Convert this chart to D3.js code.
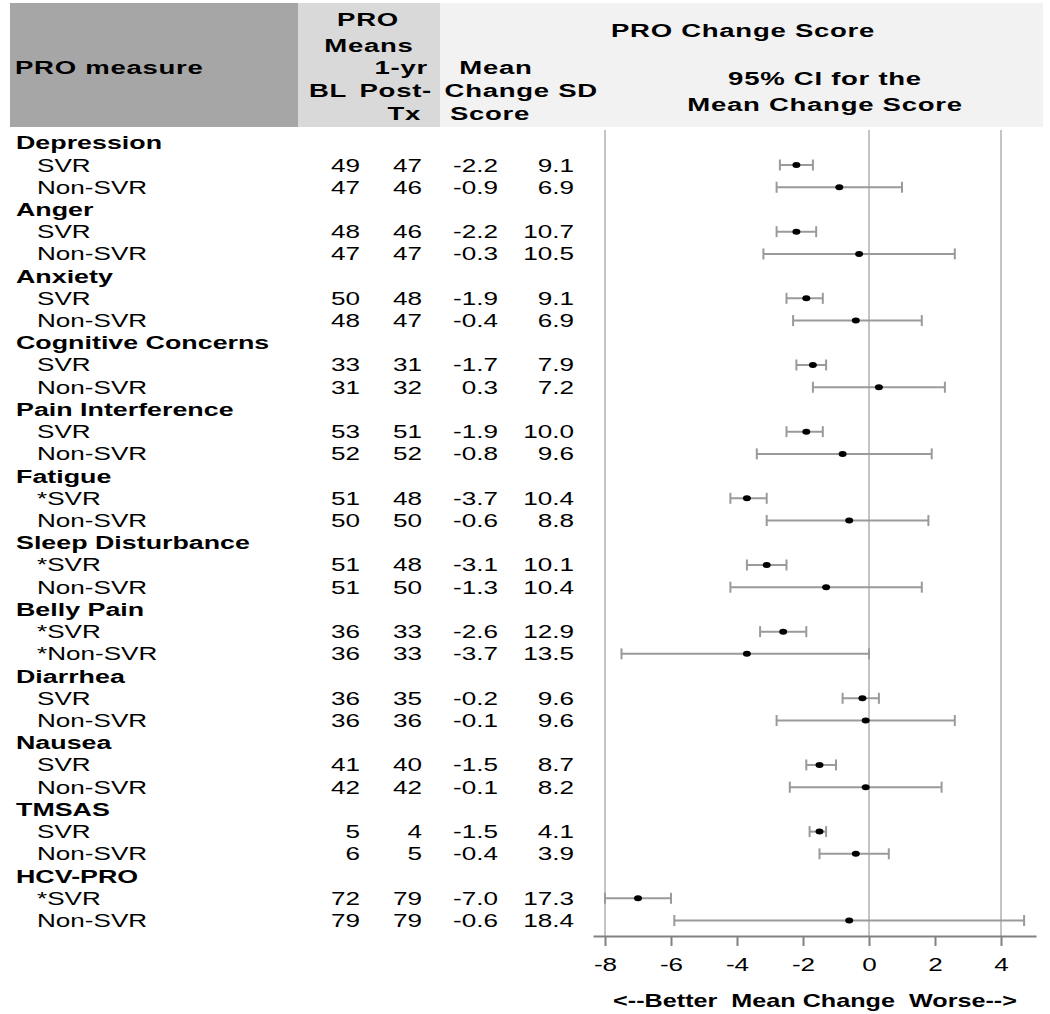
<!DOCTYPE html>
<html><head><meta charset="utf-8">
<script src="https://cdn.jsdelivr.net/npm/d3@7"></script>
<style>
html,body{margin:0;padding:0;background:#fff;}
text{font-family:"Liberation Sans",Arial,sans-serif;fill:#000;white-space:pre;}
</style></head>
<body><svg id="c" width="1050" height="1014"></svg>
<script>
// ---- data ----
const measures = ["Depression","Anger","Anxiety","Cognitive Concerns","Pain Interference","Fatigue","Sleep Disturbance","Belly Pain","Diarrhea","Nausea","TMSAS","HCV-PRO"];
const groups = ["SVR","Non-SVR","SVR","Non-SVR","SVR","Non-SVR","SVR","Non-SVR","SVR","Non-SVR",
                "*SVR","Non-SVR","*SVR","Non-SVR","*SVR","*Non-SVR","SVR","Non-SVR","SVR","Non-SVR",
                "SVR","Non-SVR","*SVR","Non-SVR"];
const blMeans   = [49,47,48,47,50,48,33,31,53,52,51,50,51,51,36,36,36,36,41,42,5,6,72,79];
const postMeans = [47,46,46,47,48,47,31,32,51,52,48,50,48,50,33,33,35,36,40,42,4,5,79,79];
const meanChange = [-2.2,-0.9,-2.2,-0.3,-1.9,-0.4,-1.7,0.3,-1.9,-0.8,-3.7,-0.6,-3.1,-1.3,-2.6,-3.7,-0.2,-0.1,-1.5,-0.1,-1.5,-0.4,-7.0,-0.6];
const sdChange   = [9.1,6.9,10.7,10.5,9.1,6.9,7.9,7.2,10.0,9.6,10.4,8.8,10.1,10.4,12.9,13.5,9.6,9.6,8.7,8.2,4.1,3.9,17.3,18.4];
const ciLower = [-2.7,-2.8,-2.8,-3.2,-2.5,-2.3,-2.2,-1.7,-2.5,-3.4,-4.2,-3.1,-3.7,-4.2,-3.3,-7.5,-0.8,-2.8,-1.9,-2.4,-1.8,-1.5,-8.0,-5.9];
const ciUpper = [-1.7,1.0,-1.6,2.6,-1.4,1.6,-1.3,2.3,-1.4,1.9,-3.1,1.8,-2.5,1.6,-1.9,0.0,0.3,2.6,-1.0,2.2,-1.3,0.6,-6.0,4.7];
const tickValues = [-8,-6,-4,-2,0,2,4];
const refLines = [-8,0,4];
const axisTitle = "<--Better  Mean Change  Worse-->";

// ---- layout ----
const SX = 1.45;
const svg = d3.select("#c");
const FONT = '"Liberation Sans",Arial,sans-serif';

function label(x, y, str, o = {}) {
  return svg.append("text")
    .attr("transform", `translate(${x},${y}) scale(${o.sx || SX},1)`)
    .attr("text-anchor", o.anchor || "start")
    .attr("dy", "0.36em")
    .style("font-size", (o.size || 18) + "px")
    .style("font-weight", o.bold ? "bold" : "normal")
    .style("letter-spacing", (o.ls || 0) + "px")
    .text(str);
}

// header boxes
svg.append("rect").attr("x", 10).attr("y", 3).attr("width", 288).attr("height", 124).attr("fill", "#a6a6a6");
svg.append("rect").attr("x", 298).attr("y", 3).attr("width", 142).attr("height", 124).attr("fill", "#d9d9d9");
svg.append("rect").attr("x", 440).attr("y", 3).attr("width", 603).attr("height", 124).attr("fill", "#f2f2f2");

const H = {bold: true, size: 19, ls: 0.5};
label(15, 67, "PRO measure", H);
label(368, 19, "PRO", {...H, anchor: "middle"});
label(369, 45, "Means", {...H, anchor: "middle"});
label(428, 67, "1-yr", {...H, anchor: "end"});
label(309, 90, "BL", {...H, anchor: "start"});
label(432, 90, "Post-", {...H, anchor: "end"});
label(421, 113, "Tx", {...H, anchor: "end"});
label(496, 67, "Mean", {...H, anchor: "middle"});
label(598, 90, "Change SD", {...H, anchor: "end"});
label(490, 113, "Score", {...H, anchor: "middle"});
label(743, 30, "PRO Change Score", {...H, anchor: "middle"});
label(825, 78, "95% CI for the", {...H, anchor: "middle"});
label(825, 104, "Mean Change Score", {...H, anchor: "middle"});

// rows: each measure has a header row + 2 group rows
const rowIds = [];
measures.forEach((m, i) => { rowIds.push("h" + i, "g" + (2 * i), "g" + (2 * i + 1)); });
const y = d3.scalePoint().domain(rowIds).range([142.8, 920.5]);
const x = d3.scaleLinear().domain([-8.3636, 5.0606]).range([593, 1036]);

// reference lines
svg.selectAll("line.ref").data(refLines).join("line")
  .attr("x1", d => x(d)).attr("x2", d => x(d))
  .attr("y1", 130).attr("y2", 936)
  .attr("stroke", "#c4c4c4").attr("stroke-width", 2);

// table text
measures.forEach((m, i) => label(16, y("h" + i), m, {bold: true, size: 18.5}));
groups.forEach((g, j) => {
  const yy = y("g" + j);
  label(37, yy, g);
  label(360, yy, String(blMeans[j]), {anchor: "end"});
  label(422, yy, String(postMeans[j]), {anchor: "end"});
  label(498, yy, meanChange[j].toFixed(1), {anchor: "end"});
  label(574, yy, sdChange[j].toFixed(1), {anchor: "end"});
});

// CI bars
const idx = d3.range(groups.length);
const ci = svg.append("g").attr("stroke", "#9a9a9a").attr("stroke-width", 2);
ci.selectAll("line.bar").data(idx).join("line")
  .attr("x1", j => x(ciLower[j])).attr("x2", j => x(ciUpper[j]))
  .attr("y1", j => y("g" + j)).attr("y2", j => y("g" + j));
ci.selectAll("line.lc").data(idx).join("line")
  .attr("x1", j => x(ciLower[j])).attr("x2", j => x(ciLower[j]))
  .attr("y1", j => y("g" + j) - 5.5).attr("y2", j => y("g" + j) + 5.5);
ci.selectAll("line.uc").data(idx).join("line")
  .attr("x1", j => x(ciUpper[j])).attr("x2", j => x(ciUpper[j]))
  .attr("y1", j => y("g" + j) - 5.5).attr("y2", j => y("g" + j) + 5.5);
svg.append("g").selectAll("ellipse").data(idx).join("ellipse")
  .attr("cx", j => x(meanChange[j])).attr("cy", j => y("g" + j))
  .attr("rx", 4).attr("ry", 3).attr("fill", "#000");

// axis
const ax = svg.append("g").attr("transform", "translate(0,936)")
  .call(d3.axisBottom(x).tickValues(tickValues).tickSize(10).tickSizeOuter(0).tickFormat(d => String(d)));
ax.select(".domain").attr("stroke", "#808080").attr("stroke-width", 2);
ax.selectAll(".tick line").attr("stroke", "#808080").attr("stroke-width", 2);
ax.selectAll(".tick text")
  .attr("y", 29).attr("dy", "0.36em")
  .attr("transform", `scale(${SX},1)`)
  .attr("fill", "#000")
  .style("font-family", FONT).style("font-size", "18px");

label(815, 1001, axisTitle, {bold: true, size: 18, anchor: "middle", sx: 1.4});
</script></body></html>
